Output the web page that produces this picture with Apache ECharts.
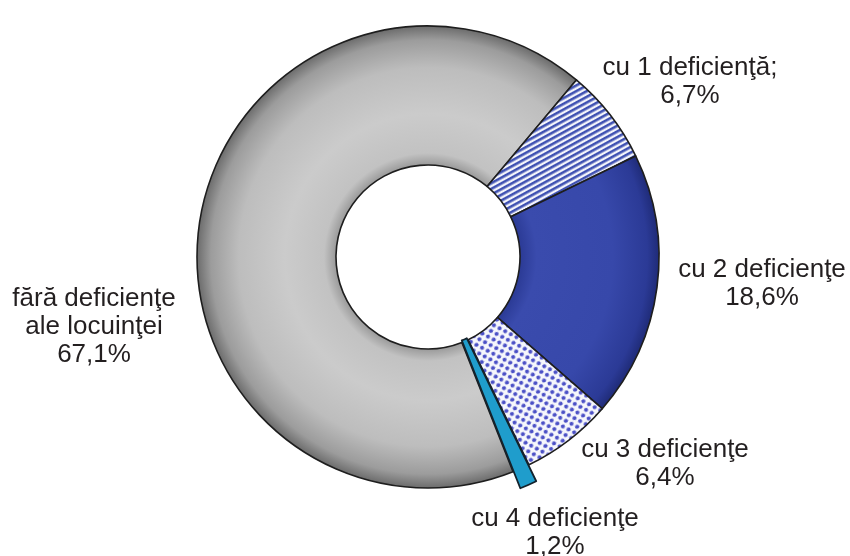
<!DOCTYPE html>
<html>
<head>
<meta charset="utf-8">
<script src="https://cdn.jsdelivr.net/npm/echarts@6/dist/echarts.min.js"></script>
<style>
  html, body { margin: 0; padding: 0; background: #fff; }
  #chart { width: 850px; height: 556px; }
</style>
</head>
<body>
<div id="chart"></div>
<script>
  // categorii si procente
  var categories = ['fără deficienţe\nale locuinţei', 'cu 1 deficienţă;', 'cu 2 deficienţe', 'cu 3 deficienţe', 'cu 4 deficienţe']
  var values = [67.1, 6.7, 18.6, 6.4, 1.2]
  var explodedIndex = 4

  var cx = 428, cy = 257, r0 = 92, r1 = 231
  var startAngle = 291.6
  var explodeOffset = 18
  // pozitia etichetelor
  var labelPos = [[94, 327], [690, 82], [762, 284], [665, 464], [555, 533]]

  function stripes() {
    var c = document.createElement('canvas')
    c.width = 12; c.height = 5
    var g = c.getContext('2d')
    g.fillStyle = '#f4f5fb'
    g.fillRect(0, 0, 12, 5)
    g.fillStyle = '#3f51b2'
    g.fillRect(0, 0, 12, 2.6)
    return c
  }
  function dots() {
    var c = document.createElement('canvas')
    c.width = 9; c.height = 9
    var g = c.getContext('2d')
    g.fillStyle = '#f6f7fc'
    g.fillRect(0, 0, 9, 9)
    g.fillStyle = '#4b50c6'
    g.beginPath(); g.arc(2.25, 2.25, 2.1, 0, Math.PI * 2); g.fill()
    g.beginPath(); g.arc(6.75, 6.75, 2.1, 0, Math.PI * 2); g.fill()
    return c
  }
  function ring(stops) {
    return new echarts.graphic.RadialGradient(cx, cy, r1, stops, true)
  }

  var grayFill = ring([
    { offset: 0.38, color: '#8c8c8c' },
    { offset: 0.45, color: '#c2c2c2' },
    { offset: 0.62, color: '#cbcbcb' },
    { offset: 0.82, color: '#bdbdbd' },
    { offset: 0.94, color: '#9c9c9c' },
    { offset: 1, color: '#6c6c6c' }
  ])
  var blueFill = ring([
    { offset: 0.38, color: '#27368f' },
    { offset: 0.47, color: '#3a4bad' },
    { offset: 0.8, color: '#3748aa' },
    { offset: 0.95, color: '#2b3a96' },
    { offset: 1, color: '#1f2b78' }
  ])
  var fills = [
    grayFill,
    { image: stripes(), repeat: 'repeat', rotation: -0.5 },
    blueFill,
    { image: dots(), repeat: 'repeat', rotation: -0.3 },
    '#1f9dcc'
  ]

  // unghiul median al feliei scoase
  var total = 0, before = 0
  for (var i = 0; i < values.length; i++) {
    total += values[i]
    if (i < explodedIndex) before += values[i]
  }
  var mid = (startAngle - (before + values[explodedIndex] / 2) / total * 360) * Math.PI / 180
  var ex = cx + explodeOffset * Math.cos(mid)
  var ey = cy - explodeOffset * Math.sin(mid)

  var mainData = [], explodedData = []
  for (var i = 0; i < values.length; i++) {
    var hide = i === explodedIndex
    mainData.push({
      name: categories[i],
      value: values[i],
      itemStyle: hide ? { color: 'rgba(0,0,0,0)', borderWidth: 0 } : { color: fills[i] }
    })
    explodedData.push({
      name: categories[i],
      value: values[i],
      itemStyle: hide ? { color: fills[i] } : { color: 'rgba(0,0,0,0)', borderWidth: 0 }
    })
  }

  var myChart = echarts.init(document.getElementById('chart'))
  var option = {
    animation: false,
    series: [{
      type: 'pie',
      center: [cx, cy],
      radius: [r0, r1],
      startAngle: startAngle,
      clockwise: true,
      avoidLabelOverlap: false,
      emphasis: { disabled: true },
      itemStyle: {
        borderColor: '#1e1e1e',
        borderWidth: 1.6
      },
      label: {
        show: true,
        position: 'outside',
        color: '#231f20',
        fontFamily: 'Liberation Sans, Arial, sans-serif',
        fontSize: 26,
        lineHeight: 28,
        align: 'center',
        formatter: function (p) {
          return p.name + '\n' + String(p.value).replace('.', ',') + '%'
        }
      },
      labelLine: { show: false },
      labelLayout: function (p) {
        var pos = labelPos[p.dataIndex]
        return { x: pos[0], y: pos[1], align: 'center', verticalAlign: 'middle' }
      },
      data: mainData
    }, {
      type: 'pie',
      silent: true,
      center: [ex, ey],
      radius: [r0 - 20, r1],
      startAngle: startAngle,
      clockwise: true,
      emphasis: { disabled: true },
      itemStyle: {
        borderColor: '#14222c',
        borderWidth: 1.8
      },
      label: { show: false },
      labelLine: { show: false },
      data: explodedData
    }]
  }
  myChart.setOption(option, true)
</script>
</body>
</html>
